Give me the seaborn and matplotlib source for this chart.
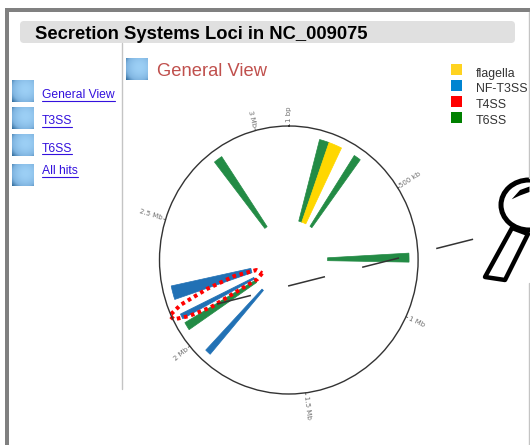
import numpy as np
import pandas as pd
import seaborn as sns
import matplotlib.pyplot as plt
from matplotlib.patches import FancyBboxPatch, Ellipse, Polygon, Rectangle
from matplotlib.colors import LinearSegmentedColormap

# genome positions are in Mb, radius is relative to the outer circle
system = ['T6SS', 'flagella', 'T6SS', 'T6SS', 'NF-T3SS', 'NF-T3SS', 'T6SS', 'NF-T3SS', 'T6SS']
locus_start = [0.129, 0.170, 0.287, 0.755, 2.187, 2.103, 2.052, 1.920, 2.798]
locus_end = [0.170, 0.226, 0.317, 0.791, 2.243, 2.124, 2.085, 1.945, 2.835]
r_inner = [0.30, 0.30, 0.30, 0.30, 0.30, 0.30, 0.30, 0.30, 0.30]
r_outer = [0.93, 0.93, 0.93, 0.93, 0.93, 0.93, 0.93, 0.93, 0.93]

t4ss_pos = [2.125, 2.083, 2.084, 2.100, 2.117, 2.137, 2.158, 2.184, 2.210, 2.203, 2.125]
t4ss_r = [0.229, 0.283, 0.699, 0.877, 0.993, 1.011, 0.900, 0.664, 0.436, 0.262, 0.229]

tick_pos = [0, 0.5, 1, 1.5, 2, 2.5, 3]
tick_labels = ['1 bp', '500 kb', '1 Mb', '1.5 Mb', '2 Mb', '2.5 Mb', '3 Mb']
tick_rot = [90, 33, -25, -83, 40, -17, -76]
tick_r = [1.085, 1.115, 1.095, 1.11, 1.09, 1.12, 1.09]

legend_names = ['flagella', 'NF-T3SS', 'T4SS', 'T6SS']
legend_colors = ['#FFD320', '#0084D1', '#FF0000', '#008000']
wedge_colors = {'flagella': '#FFD700', 'NF-T3SS': '#2171B5', 'T6SS': '#238B45'}

nav_labels = ['General View', 'T3SS', 'T6SS', 'All hits']
nav_top = [81, 108, 135, 165]
nav_text_y = [95, 121.5, 148.5, 171.5]

MB_PER_TURN = 3.13

sns.set_style('white')
plt.rcParams['font.family'] = ['Liberation Sans', 'DejaVu Sans']

df = pd.DataFrame({'system': system, 'start': locus_start, 'end': locus_end,
                   'r0': r_inner, 'r1': r_outer})
to_rad = lambda mb: np.asarray(mb) / MB_PER_TURN * 2 * np.pi

fig = plt.figure(figsize=(5.3, 4.45), dpi=100, facecolor='white')

# circular map
ax = fig.add_axes([159.5 / 530, (445 - 394) / 445, 258.6 / 530, 268 / 445], projection='polar')
ax.set_aspect('auto')
ax.set_theta_zero_location('N')
ax.set_theta_direction(-1)
ax.set_ylim(0, 1)
ax.set_xticks([])
ax.set_yticks([])
ax.grid(False)
ax.spines['polar'].set_linewidth(1.0)
ax.spines['polar'].set_color('#333333')

for _, row in df.iterrows():
    t0, t1 = to_rad(row['start']), to_rad(row['end'])
    ax.bar((t0 + t1) / 2, row['r1'] - row['r0'], width=t1 - t0, bottom=row['r0'],
           color=wedge_colors[row['system']], edgecolor=wedge_colors[row['system']], linewidth=0.5)

for pos, lab, rot, r in zip(tick_pos, tick_labels, tick_rot, tick_r):
    ax.plot([to_rad(pos)] * 2, [1, 1.015], color='#555555', lw=0.6, clip_on=False)
    ax.text(to_rad(pos), r, lab, rotation=rot, rotation_mode='anchor', ha='center', va='center',
            fontsize=5, color='#707070', family=['DejaVu Sans'])

# whole page drawn in pixel coordinates on top of the map
page = fig.add_axes([0, 0, 1, 1], zorder=5)
page.patch.set_alpha(0)
page.axis('off')

page.add_patch(Rectangle((4.5, 8), 526, 4, color='#808080', lw=0))
page.add_patch(Rectangle((4.5, 8), 4, 437, color='#808080', lw=0))
page.plot([529, 529], [12, 178], color='#c4c4c4', lw=1)
page.plot([529, 529], [283, 445], color='#c4c4c4', lw=1)
page.plot([121.5, 121.5], [43, 389], color='#c4c4c4', lw=1)
page.add_patch(FancyBboxPatch((23, 24), 489, 16, boxstyle='round,pad=3,rounding_size=4',
                              fc='#e0e0e0', ec='none'))
page.text(35, 34.5, 'Secretion Systems Loci in NC_009075', fontsize=13.25, fontweight='bold',
          color='black', ha='left', va='center')
page.text(157, 71.5, 'General View', fontsize=13.25, color='#C0504D', ha='left', va='center')

# blue gradient icons
u, v = np.meshgrid(np.linspace(0, 1, 40), np.linspace(0, 1, 40))
shade = np.clip(np.hypot(u - 0.62, v - 0.42) / 0.85, 0, 1) ** 2
icon_cmap = LinearSegmentedColormap.from_list('icon', ['#9CCFF5', '#7FB4E0', '#2F6A9A'])


def icon(x, y):
    page.imshow(shade, cmap=icon_cmap, vmin=0, vmax=1, extent=(x, x + 22, y + 21.5, y),
                aspect='auto', interpolation='bilinear')


icon(126, 59)
for lab, top, ty in zip(nav_labels, nav_top, nav_text_y):
    icon(12, top)
    page.text(42, ty, lab, fontsize=8.7, color='#3311DD', ha='left', va='center')
    width = page.text(42, ty, lab, fontsize=8.7, alpha=0).get_window_extent(fig.canvas.get_renderer()).width
    page.plot([42, 42 + width], [ty + 5.5, ty + 5.5], color='#3311DD', lw=0.8)

# legend
for i, (name, col) in enumerate(zip(legend_names, legend_colors)):
    y = 64 + 16 * i
    page.add_patch(Rectangle((451, y), 11, 11, color=col, lw=0))
    page.text(476, y + 9.5, name, fontsize=8.9, color='#333333', ha='left', va='center')

# red outline of the T4SS locus, and the long dashed line
t4 = pd.DataFrame({'t': to_rad(t4ss_pos), 'r': t4ss_r})
sns.lineplot(data=t4, x='t', y='r', ax=ax, sort=False, estimator=None, color='#FF0000', lw=2.9, legend=False)
ax.lines[-1].set_linestyle((0, (0.9, 0.9)))
ax.lines[-1].set_clip_on(False)
ax.set_xlabel('')
ax.set_ylabel('')
ax.set_ylim(0, 1)

sns.lineplot(x=[217, 474], y=[304, 239], ax=page, sort=False, estimator=None, color='#333333', lw=1.1, legend=False)
page.lines[-1].set_linestyle((2.0, (24.9, 25.1)))
page.lines[-1].set_dash_capstyle('butt')

# magnifier
page.add_patch(Polygon([(512, 228), (528, 234), (505, 280), (485, 277)], closed=True, fc='white', ec='black',
                       lw=3.2, joinstyle='round'))
page.add_patch(Ellipse((529, 205), 56, 50, fc='white', ec='black', lw=3.6))
page.add_patch(Polygon([(511.7, 199.3), (520, 190), (529.5, 186.5), (529.5, 192), (520, 195.5)], closed=True,
                       fc='black', ec='none'))

page.set_xlim(0, 530)
page.set_ylim(445, 0)
page.set_xlabel('')
page.set_ylabel('')

fig.savefig('out.png', dpi=100)
